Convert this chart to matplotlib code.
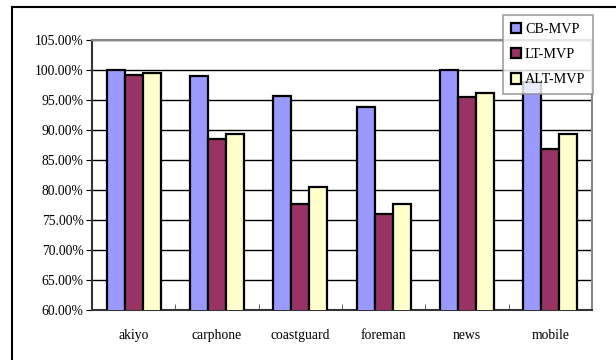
import matplotlib
matplotlib.use("Agg")
import matplotlib.pyplot as plt
import numpy as np
from matplotlib.lines import Line2D
from matplotlib.ticker import FuncFormatter, MultipleLocator

plt.rcParams['font.family'] = ['Liberation Serif', 'DejaVu Serif']

categories = ["akiyo", "carphone", "coastguard", "foreman", "news", "mobile"]
series_names = ["CB-MVP", "LT-MVP", "ALT-MVP"]
cb_mvp = [100.0, 99.05, 95.7, 93.9, 99.95, 98.0]
lt_mvp = [99.2, 88.45, 77.7, 76.05, 95.55, 86.8]
alt_mvp = [99.5, 89.3, 80.5, 77.6, 96.2, 89.4]
colors = ["#9999FF", "#993366", "#FFFFCC"]

fig = plt.figure(figsize=(6.16, 3.6), dpi=100)
ax = fig.add_axes([92 / 616, 1 - 310 / 360, 500 / 616, 270 / 360])

x = np.arange(len(categories))
w = 0.217
for i, (vals, name, c) in enumerate(zip([cb_mvp, lt_mvp, alt_mvp], series_names, colors)):
    ax.bar(x + (i - 1) * w, vals, width=w, color=c, edgecolor="black",
           linewidth=1.6, label=name, zorder=3)

ax.set_xlim(-0.5, len(categories) - 0.5)
ax.set_ylim(60, 105)
ax.yaxis.set_major_locator(MultipleLocator(5))
ax.yaxis.set_major_formatter(FuncFormatter(lambda v, p: f"{v:.2f}%"))
ax.grid(axis="y", color="black", linewidth=1.0, zorder=0)
ax.set_axisbelow(True)

ax.set_xticks(x)
ax.set_xticklabels(categories)
ax.tick_params(axis="x", length=0, pad=14, labelsize=9.8)
ax.set_xticks(np.arange(-0.5, len(categories)), minor=True)
ax.tick_params(axis="x", which="minor", direction="in", length=4, color="#444444")
ax.tick_params(axis="y", direction="out", length=4, labelsize=9.8, pad=2)

for s in ["top", "right"]:
    ax.spines[s].set_color("#888888")
    ax.spines[s].set_linewidth(1.5)
for s in ["left", "bottom"]:
    ax.spines[s].set_color("#333333")
    ax.spines[s].set_linewidth(1.5)

leg = fig.legend(loc="upper left", bbox_to_anchor=(503 / 616, 1 - 15 / 360),
                 frameon=True, fancybox=False, edgecolor="#888888",
                 fontsize=10.2, handlelength=0.75, handleheight=0.75,
                 handletextpad=0.25, borderpad=0.55, labelspacing=0.85,
                 borderaxespad=0)
leg.get_frame().set_linewidth(1.2)
for h in leg.legend_handles:
    h.set_linewidth(1.6)

# outer frame
fig.add_artist(Line2D([12 / 616, 12 / 616], [0, 1 - 7 / 360], color="black", linewidth=1.5))
fig.add_artist(Line2D([12 / 616, 1], [1 - 7 / 360, 1 - 7 / 360], color="black", linewidth=1.5))

fig.savefig("out.png", dpi=100)
